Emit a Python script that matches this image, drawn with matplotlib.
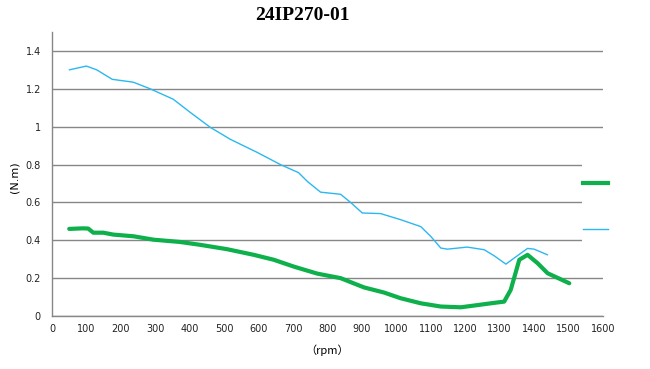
import matplotlib
matplotlib.use("Agg")
import matplotlib.pyplot as plt
from matplotlib.lines import Line2D
from matplotlib.patches import Rectangle

# ---- data ----
blue_rpm = [50, 100, 130, 175, 236, 285, 352, 401, 460, 518, 596, 663, 716, 742, 780,
            838, 867, 901, 954, 1012, 1071, 1100, 1129, 1148, 1206, 1255, 1284, 1318,
            1342, 1381, 1400, 1439]
blue_torque = [1.30, 1.32, 1.30, 1.25, 1.235, 1.20, 1.145, 1.076, 0.996, 0.933, 0.864,
               0.80, 0.757, 0.71, 0.654, 0.643, 0.60, 0.544, 0.541, 0.509, 0.472, 0.42,
               0.359, 0.353, 0.364, 0.35, 0.318, 0.274, 0.306, 0.357, 0.353, 0.323]

green_rpm = [50, 90, 105, 120, 149, 178, 237, 295, 372, 430, 508, 586, 644, 702, 770,
             838, 906, 964, 1012, 1071, 1129, 1187, 1225, 1274, 1313, 1332, 1357, 1381,
             1410, 1439, 1502]
green_torque = [0.46, 0.463, 0.462, 0.44, 0.44, 0.43, 0.421, 0.403, 0.391, 0.376, 0.353,
                0.323, 0.297, 0.261, 0.224, 0.20, 0.151, 0.124, 0.094, 0.067, 0.05, 0.046,
                0.055, 0.067, 0.076, 0.138, 0.297, 0.323, 0.279, 0.226, 0.173]

x_ticks = list(range(0, 1601, 100))
y_ticks = [0, 0.2, 0.4, 0.6, 0.8, 1.0, 1.2, 1.4]
y_tick_labels = ["0", "0.2", "0.4", "0.6", "0.8", "1", "1.2", "1.4"]

title = "24IP270-01"
x_label = "（rpm）"
y_label = "(N.m)"

# ---- figure ----
fig = plt.figure(figsize=(6.5, 3.69), dpi=100)
ax = fig.add_axes([52/650, 1-316/369, (603-52)/650, (316-32)/369])

green_color = "#0DB04B"
blue_color = "#2BB8F0"

ax.plot(blue_rpm, blue_torque, color=blue_color, lw=1.0, solid_joinstyle="round",
        solid_capstyle="round", zorder=3)
ax.plot(green_rpm, green_torque, color=green_color, lw=3.0, solid_joinstyle="round",
        solid_capstyle="round", zorder=4)

ax.set_xlim(0, 1600)
ax.set_ylim(0, 1.5)
ax.set_xticks(x_ticks)
ax.set_xticklabels([str(v) for v in x_ticks])
ax.set_yticks(y_ticks)
ax.set_yticklabels(y_tick_labels)
ax.tick_params(length=0, labelsize=7, colors="#222222", pad=8)
ax.tick_params(axis="x", pad=6)

ax.grid(axis="y", color="#878787", lw=1.0)
ax.set_axisbelow(True)
for s in ["top", "right"]:
    ax.spines[s].set_visible(False)
for s in ["left", "bottom"]:
    ax.spines[s].set_color("#878787")
    ax.spines[s].set_linewidth(1.0)

fig.text(302/650, 1-15/369, title, ha="center", va="center", fontsize=14,
         fontweight="bold", family=["Liberation Serif", "DejaVu Serif"])
fig.text(327/650, 1-350/369, x_label, ha="center", va="center", fontsize=8,
         family=["Noto Sans CJK SC", "DejaVu Sans"])
fig.text(15/650, 1-177/369, y_label, ha="center", va="center", fontsize=8,
         rotation=90, family=["DejaVu Sans"])

# white legend area covering the grid lines
legend_bg = Rectangle((582/650, 1-264/369), 68/650, 116/369, transform=fig.transFigure,
                      facecolor="white", edgecolor="none", clip_on=False, zorder=2)
ax.add_artist(legend_bg)

handles = [Line2D([], [], color=green_color, lw=3.0),
           Line2D([], [], color=blue_color, lw=1.0)]
leg = ax.legend(handles=handles, labels=["", ""], loc="center left",
                bbox_to_anchor=(582/650, 1-207/369), bbox_transform=fig.transFigure,
                frameon=False, handlelength=1.75, handletextpad=0, labelspacing=2.3,
                borderpad=0.1, borderaxespad=0, fontsize=10)
leg.set_zorder(5)

fig.savefig("out.png", dpi=100)
